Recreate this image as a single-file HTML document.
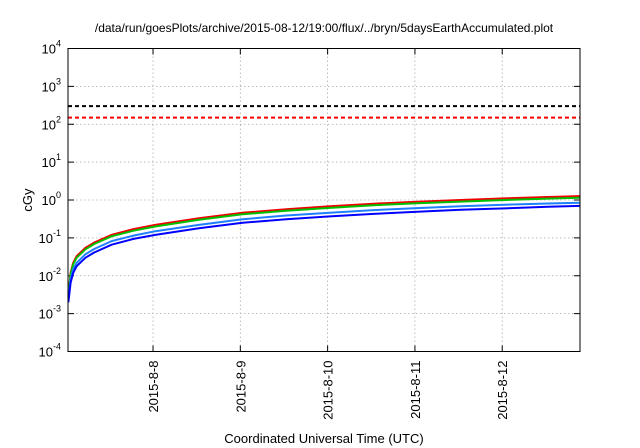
<!DOCTYPE html>
<html><head><meta charset="utf-8"><style>
body{margin:0;background:#fff;}
svg{display:block;font-family:"Liberation Sans","DejaVu Sans",sans-serif;}
</style></head><body>
<svg id="chart" width="640" height="448" viewBox="0 0 640 448">
<text x="324" y="32" font-size="12" text-anchor="middle">/data/run/goesPlots/archive/2015-08-12/19:00/flux/../bryn/5daysEarthAccumulated.plot</text>
<text x="0" y="0" font-size="13" text-anchor="middle" transform="translate(32,200) rotate(-90)">cGy</text>
<text x="324" y="443" font-size="13" text-anchor="middle">Coordinated Universal Time (UTC)</text>
<g id="grid"></g><g id="axes"></g><g id="series"></g>
<rect x="68" y="48.5" width="512" height="303" fill="none" stroke="#000" stroke-width="1"/>
</svg>
<script>
const times=[0.005,0.03,0.06,0.1,0.2,0.3,0.5,0.75,1,1.5,2,2.5,3,3.5,4,4.5,5,5.5,5.86];
const redVals=[0.003,0.012,0.022,0.033,0.055,0.075,0.12,0.17,0.22,0.33,0.46,0.57,0.68,0.8,0.9,1.0,1.1,1.2,1.27];
const greenVals=[0.0028,0.011,0.02,0.03,0.05,0.069,0.11,0.155,0.2,0.3,0.42,0.52,0.62,0.73,0.82,0.91,1.0,1.09,1.15];
const lightBlueVals=[0.0024,0.008,0.015,0.022,0.037,0.051,0.082,0.115,0.15,0.22,0.31,0.39,0.46,0.54,0.61,0.68,0.75,0.81,0.85];
const blueVals=[0.002,0.0065,0.012,0.018,0.03,0.041,0.066,0.094,0.12,0.18,0.25,0.31,0.37,0.43,0.49,0.55,0.6,0.66,0.7];
const thresholds=[300,150];
const xTickDays=[0.974,1.974,2.974,3.974,4.974];
const xTickLabels=["2015-8-8","2015-8-9","2015-8-10","2015-8-11","2015-8-12"];
const yTickExps=[-4,-3,-2,-1,0,1,2,3,4];

const NS="http://www.w3.org/2000/svg";
const L=68,R=580,T=48.5,B=351.5,DAYMAX=5.865;
function xS(t){return L+t/DAYMAX*(R-L);}
function yS(v){return B-(Math.log10(v)+4)/8*(B-T);}
function mk(tag,attrs,parent){const e=document.createElementNS(NS,tag);for(const k in attrs)e.setAttribute(k,attrs[k]);parent.appendChild(e);return e;}
const grid=document.getElementById('grid'),axes=document.getElementById('axes'),ser=document.getElementById('series');

yTickExps.forEach(ex=>{
  const y=yS(Math.pow(10,ex));
  if(ex>-4&&ex<4){const g=mk('line',{x1:L,x2:R,y1:y,y2:y,stroke:'#aaa','stroke-width':0.8,'stroke-dasharray':'1.5,2.5'},grid);
  
  }
  mk('line',{x1:L,x2:L+6,y1:y,y2:y,stroke:'#000'},axes);
  mk('line',{x1:R-6,x2:R,y1:y,y2:y,stroke:'#000'},axes);
  const t=mk('text',{x:61,y:y+5,'font-size':13,'text-anchor':'end'},axes);
  
  
  t.innerHTML='10<tspan dy="-7" font-size="9">'+ex+'</tspan>';
});
xTickDays.forEach((d,i)=>{
  const x=xS(d);
  const g=mk('line',{x1:x,x2:x,y1:T,y2:B,stroke:'#aaa','stroke-width':0.8,'stroke-dasharray':'1.5,2.5'},grid);
  
  
  mk('line',{x1:x,x2:x,y1:B-6,y2:B,stroke:'#000'},axes);
  mk('line',{x1:x,x2:x,y1:T,y2:T+6,stroke:'#000'},axes);
  const t=mk('text',{x:0,y:0,'font-size':13,'text-anchor':'end',transform:'translate('+(x+5)+','+(B+9)+') rotate(-90)'},axes);
  
  
  t.textContent=xTickLabels[i];
});
const thrColors=['#000','#f00'];
thresholds.forEach((v,i)=>{
  const l=mk('line',{x1:L,x2:R,y1:yS(v),y2:yS(v),stroke:thrColors[i],'stroke-width':2,'stroke-dasharray':'4,3'},ser);
  
  
});
[[redVals,'#f00000','red-series'],[greenVals,'#00c000','green-series'],[lightBlueVals,'#1e7fff','light-blue-series'],[blueVals,'#0000ff','blue-series']].forEach(s=>{
  const d=times.map((t,i)=>(i?'L':'M')+xS(t).toFixed(1)+','+yS(s[0][i]).toFixed(1)).join(' ');
  const p=mk('path',{d:d,fill:'none',stroke:s[1],'stroke-width':2,'stroke-linejoin':'round'},ser);
  
  
});
</script>
</body></html>
